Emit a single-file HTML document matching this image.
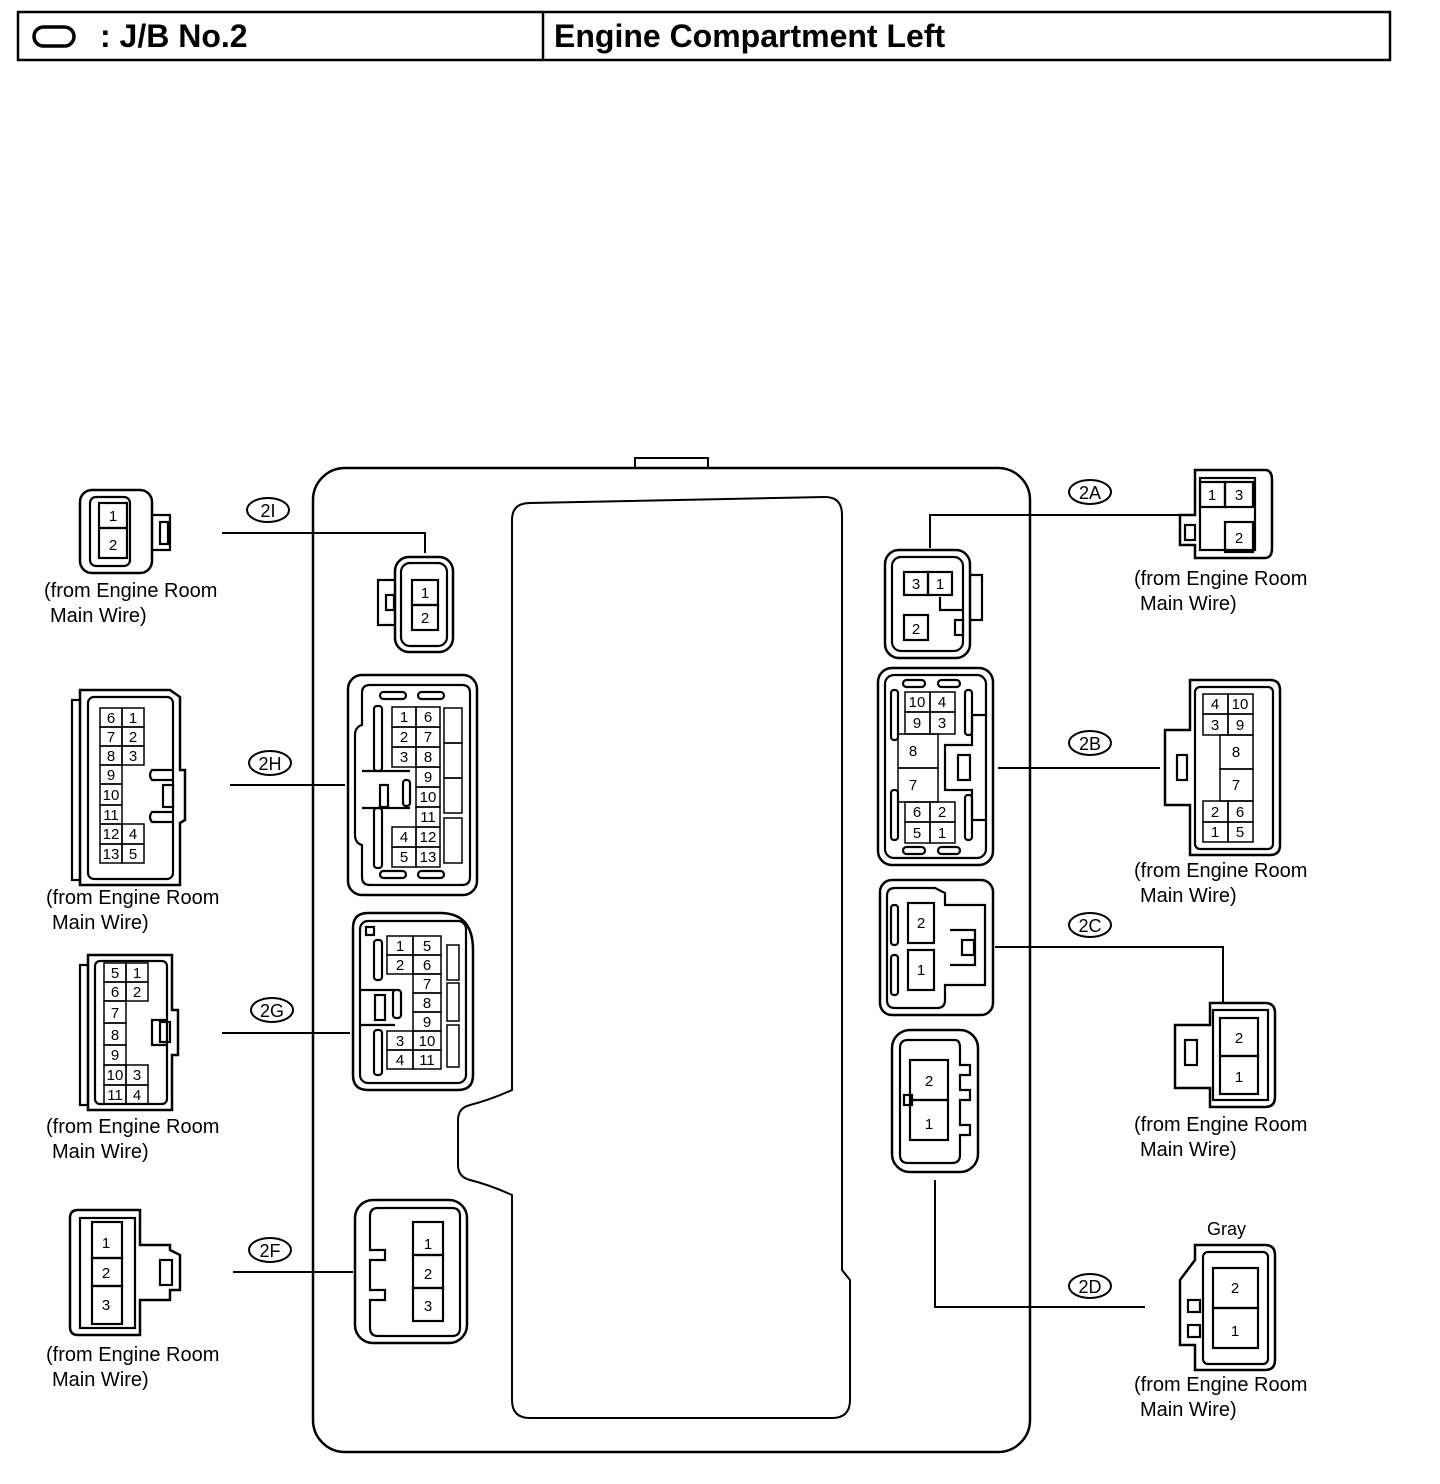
<!DOCTYPE html>
<html><head><meta charset="utf-8"><style>
html,body{margin:0;padding:0;background:#fff}
svg{display:block}
text{font-family:"Liberation Sans",sans-serif;fill:#000}
.n{font-size:15px;text-anchor:middle}
.t{font-size:20px}
.l{font-size:18px;text-anchor:middle}
</style></head><body>
<svg width="1440" height="1484" viewBox="0 0 1440 1484" xmlns="http://www.w3.org/2000/svg" fill="none" stroke="#000" stroke-width="2.2">
<!-- header -->
<rect x="18" y="12" width="1372" height="48" stroke-width="2.5"/>
<line x1="543" y1="12" x2="543" y2="60" stroke-width="2.5"/>
<rect x="34" y="27" width="40" height="19" rx="9.5" stroke-width="3.5"/>
<text x="100" y="47" style="font-size:32px;font-weight:bold" stroke="none">: J/B No.2</text>
<text x="554" y="47" style="font-size:32px;font-weight:bold" stroke="none">Engine Compartment Left</text>

<!-- main box -->
<rect x="313" y="468" width="717" height="984" rx="32" stroke-width="2.5"/>
<path d="M635 468 V458 H708 V468" stroke-width="2"/>
<path d="M530 503 L825 497 Q842 497 842 515 V1270 L850 1280 V1400 Q850 1418 832 1418 H530 Q512 1418 512 1400 V1195 Q490 1185 470 1180 Q458 1177 458 1165 V1120 Q458 1108 470 1105 Q490 1100 512 1090 V520 Q512 503 530 503Z" stroke-width="2"/>

<!-- callouts -->
<g stroke-width="2">
<ellipse cx="268" cy="510" rx="21" ry="12"/><text class="l" x="268" y="517" stroke="none">2I</text>
<path d="M222 533 H425 V553"/>
<ellipse cx="270" cy="763" rx="21" ry="12"/><text class="l" x="270" y="770" stroke="none">2H</text>
<path d="M230 785 H345"/>
<ellipse cx="272" cy="1010" rx="21" ry="12"/><text class="l" x="272" y="1017" stroke="none">2G</text>
<path d="M222 1033 H350"/>
<ellipse cx="270" cy="1250" rx="21" ry="12"/><text class="l" x="270" y="1257" stroke="none">2F</text>
<path d="M233 1272 H353"/>
<ellipse cx="1090" cy="492" rx="21" ry="12"/><text class="l" x="1090" y="499" stroke="none">2A</text>
<path d="M930 548 V515 H1180"/>
<ellipse cx="1090" cy="743" rx="21" ry="12"/><text class="l" x="1090" y="750" stroke="none">2B</text>
<path d="M998 768 H1160"/>
<ellipse cx="1090" cy="925" rx="21" ry="12"/><text class="l" x="1090" y="932" stroke="none">2C</text>
<path d="M995 947 H1223 V1003"/>
<ellipse cx="1090" cy="1286" rx="21" ry="12"/><text class="l" x="1090" y="1293" stroke="none">2D</text>
<path d="M935 1180 V1307 H1145"/>
</g>

<!-- from labels -->
<g stroke="none">
<text class="t" x="44" y="597">(from Engine Room</text><text class="t" x="50" y="622">Main Wire)</text>
<text class="t" x="46" y="904">(from Engine Room</text><text class="t" x="52" y="929">Main Wire)</text>
<text class="t" x="46" y="1133">(from Engine Room</text><text class="t" x="52" y="1158">Main Wire)</text>
<text class="t" x="46" y="1361">(from Engine Room</text><text class="t" x="52" y="1386">Main Wire)</text>
<text class="t" x="1134" y="585">(from Engine Room</text><text class="t" x="1140" y="610">Main Wire)</text>
<text class="t" x="1134" y="877">(from Engine Room</text><text class="t" x="1140" y="902">Main Wire)</text>
<text class="t" x="1134" y="1131">(from Engine Room</text><text class="t" x="1140" y="1156">Main Wire)</text>
<text class="t" x="1134" y="1391">(from Engine Room</text><text class="t" x="1140" y="1416">Main Wire)</text>
<text x="1207" y="1235" style="font-size:18px">Gray</text>
</g>

<!-- center 2I -->
<rect x="395" y="557" width="58" height="95" rx="14" stroke-width="2.5"/>
<rect x="401" y="563" width="46" height="83" rx="9"/>
<path d="M395 580 H378 V625 H395"/><rect x="386" y="595" width="8" height="15"/>
<rect x="412" y="580" width="26" height="25"/><rect x="412" y="605" width="26" height="25"/>
<g stroke="none"><text class="n" x="425" y="598">1</text><text class="n" x="425" y="623">2</text></g>

<!-- center 2H -->
<rect x="348" y="675" width="129" height="220" rx="14" stroke-width="2.5"/>
<path d="M370 685 H462 Q470 685 470 693 V877 Q470 885 462 885 H370 Q362 885 362 877 V845 Q355 843 355 835 V735 Q355 727 362 725 V693 Q362 685 370 685Z"/>
<rect x="380" y="692" width="26" height="7" rx="3.5"/><rect x="418" y="692" width="26" height="7" rx="3.5"/>
<rect x="380" y="871" width="26" height="7" rx="3.5"/><rect x="418" y="871" width="26" height="7" rx="3.5"/>
<rect x="374" y="706" width="8" height="65" rx="3"/><rect x="374" y="808" width="8" height="60" rx="3"/>
<path d="M362 771 H410 M362 808 H410"/><rect x="380" y="785" width="8" height="22"/><rect x="403" y="780" width="7" height="26" rx="3"/>
<g stroke-width="1.5">
<rect x="392" y="707" width="24" height="20"/><rect x="416" y="707" width="24" height="20"/>
<rect x="392" y="727" width="24" height="20"/><rect x="416" y="727" width="24" height="20"/>
<rect x="392" y="747" width="24" height="20"/><rect x="416" y="747" width="24" height="20"/>
<rect x="416" y="767" width="24" height="20"/><rect x="416" y="787" width="24" height="20"/><rect x="416" y="807" width="24" height="20"/>
<rect x="392" y="827" width="24" height="20"/><rect x="416" y="827" width="24" height="20"/>
<rect x="392" y="847" width="24" height="20"/><rect x="416" y="847" width="24" height="20"/>
<rect x="444" y="708" width="18" height="35"/><rect x="444" y="743" width="18" height="35"/><rect x="444" y="778" width="18" height="35"/><rect x="444" y="818" width="18" height="45"/>
</g>
<g stroke="none">
<text class="n" x="404" y="722">1</text><text class="n" x="428" y="722">6</text>
<text class="n" x="404" y="742">2</text><text class="n" x="428" y="742">7</text>
<text class="n" x="404" y="762">3</text><text class="n" x="428" y="762">8</text>
<text class="n" x="428" y="782">9</text><text class="n" x="428" y="802">10</text><text class="n" x="428" y="822">11</text>
<text class="n" x="404" y="842">4</text><text class="n" x="428" y="842">12</text>
<text class="n" x="404" y="862">5</text><text class="n" x="428" y="862">13</text>
</g>

<!-- center 2G -->
<path d="M368 913 H440 Q473 913 473 950 V1075 Q473 1090 458 1090 H368 Q353 1090 353 1075 V928 Q353 913 368 913Z" stroke-width="2.5"/>
<rect x="360" y="921" width="106" height="162" rx="8"/>
<rect x="366" y="927" width="8" height="8"/>
<rect x="374" y="940" width="8" height="40" rx="3"/><rect x="374" y="1030" width="8" height="45" rx="3"/>
<path d="M360 990 H395 M360 1025 H395"/><rect x="375" y="995" width="10" height="25"/><rect x="393" y="990" width="8" height="28" rx="3"/>
<g stroke-width="1.5">
<rect x="387" y="936" width="26" height="19"/><rect x="413" y="936" width="28" height="19"/>
<rect x="387" y="955" width="26" height="19"/><rect x="413" y="955" width="28" height="19"/>
<rect x="413" y="974" width="28" height="19"/><rect x="413" y="993" width="28" height="19"/><rect x="413" y="1012" width="28" height="19"/>
<rect x="387" y="1031" width="26" height="19"/><rect x="413" y="1031" width="28" height="19"/>
<rect x="387" y="1050" width="26" height="19"/><rect x="413" y="1050" width="28" height="19"/>
<rect x="447" y="945" width="12" height="35"/><rect x="447" y="983" width="12" height="38"/><rect x="447" y="1025" width="12" height="42"/>
</g>
<g stroke="none">
<text class="n" x="400" y="951">1</text><text class="n" x="427" y="951">5</text>
<text class="n" x="400" y="970">2</text><text class="n" x="427" y="970">6</text>
<text class="n" x="427" y="989">7</text><text class="n" x="427" y="1008">8</text><text class="n" x="427" y="1027">9</text>
<text class="n" x="400" y="1046">3</text><text class="n" x="427" y="1046">10</text>
<text class="n" x="400" y="1065">4</text><text class="n" x="427" y="1065">11</text>
</g>

<!-- center 2F -->
<rect x="355" y="1200" width="112" height="143" rx="18" stroke-width="2.5"/>
<path d="M378 1208 H452 Q460 1208 460 1216 V1328 Q460 1336 452 1336 H378 Q370 1336 370 1328 V1300 H385 V1290 H370 V1260 H385 V1250 H370 V1216 Q370 1208 378 1208Z"/>
<rect x="413" y="1222" width="30" height="33"/><rect x="413" y="1255" width="30" height="33"/><rect x="413" y="1288" width="30" height="33"/>
<g stroke="none"><text class="n" x="428" y="1249">1</text><text class="n" x="428" y="1279">2</text><text class="n" x="428" y="1311">3</text></g>

<!-- right center 2A -->
<rect x="885" y="550" width="85" height="108" rx="14" stroke-width="2.5"/>
<rect x="892" y="557" width="71" height="94" rx="9"/>
<path d="M970 575 H982 V620 H970"/>
<path d="M940 597 V610 H963"/><rect x="955" y="620" width="8" height="15"/>
<rect x="904" y="572" width="24" height="23"/><rect x="928" y="572" width="24" height="23"/><rect x="904" y="615" width="24" height="25"/>
<g stroke="none"><text class="n" x="916" y="589">3</text><text class="n" x="940" y="589">1</text><text class="n" x="916" y="634">2</text></g>

<!-- 2B center -->
<rect x="878" y="668" width="115" height="197" rx="14" stroke-width="2.5"/>
<rect x="885" y="675" width="101" height="183" rx="9"/>
<rect x="903" y="680" width="22" height="7" rx="3.5"/><rect x="938" y="680" width="22" height="7" rx="3.5"/>
<rect x="903" y="847" width="22" height="7" rx="3.5"/><rect x="938" y="847" width="22" height="7" rx="3.5"/>
<rect x="891" y="690" width="7" height="50" rx="3"/><rect x="891" y="790" width="7" height="50" rx="3"/>
<rect x="965" y="690" width="7" height="45" rx="3"/><rect x="965" y="795" width="7" height="45" rx="3"/>
<path d="M986 715 H972 V745 H945 V790 H972 V820 H986"/><rect x="958" y="755" width="12" height="25"/>
<g stroke-width="1.5">
<rect x="905" y="692" width="25" height="20"/><rect x="930" y="692" width="25" height="20"/>
<rect x="905" y="712" width="25" height="22"/><rect x="930" y="712" width="25" height="22"/>
<rect x="898" y="734" width="40" height="34"/><rect x="898" y="768" width="40" height="34"/>
<rect x="905" y="802" width="25" height="20"/><rect x="930" y="802" width="25" height="20"/>
<rect x="905" y="822" width="25" height="21"/><rect x="930" y="822" width="25" height="21"/>
</g>
<g stroke="none">
<text class="n" x="917" y="707">10</text><text class="n" x="942" y="707">4</text>
<text class="n" x="917" y="728">9</text><text class="n" x="942" y="728">3</text>
<text class="n" x="913" y="756">8</text><text class="n" x="913" y="790">7</text>
<text class="n" x="917" y="817">6</text><text class="n" x="942" y="817">2</text>
<text class="n" x="917" y="838">5</text><text class="n" x="942" y="838">1</text>
</g>

<!-- 2C center -->
<rect x="880" y="880" width="113" height="135" rx="12" stroke-width="2.5"/>
<path d="M895 888 H935 L945 893 V905 H985 V985 H945 V1000 Q945 1008 937 1008 H895 Q887 1008 887 1000 V896 Q887 888 895 888Z"/>
<rect x="891" y="905" width="7" height="40" rx="3"/><rect x="891" y="955" width="7" height="40" rx="3"/>
<path d="M950 930 H975 V965 H950"/><rect x="962" y="940" width="12" height="15"/>
<rect x="908" y="903" width="26" height="40"/><rect x="908" y="950" width="26" height="40"/>
<g stroke="none"><text class="n" x="921" y="928">2</text><text class="n" x="921" y="975">1</text></g>

<!-- 2D center -->
<rect x="892" y="1030" width="86" height="142" rx="18" stroke-width="2.5"/>
<path d="M908 1040 H955 Q960 1040 960 1048 V1065 H970 V1075 H960 V1090 H970 V1100 H960 V1125 H970 V1135 H960 V1155 Q960 1163 952 1163 H908 Q900 1163 900 1155 V1048 Q900 1040 908 1040Z"/>
<rect x="910" y="1060" width="38" height="40"/><rect x="910" y="1100" width="38" height="40"/><rect x="904" y="1095" width="8" height="10"/>
<g stroke="none"><text class="n" x="929" y="1086">2</text><text class="n" x="929" y="1129">1</text></g>

<!-- left external 2I -->
<rect x="80" y="490" width="72" height="83" rx="12" stroke-width="2.5"/>
<rect x="90" y="497" width="40" height="69" rx="6"/>
<path d="M152 515 H170 V550 H152"/><rect x="160" y="522" width="8" height="22"/>
<rect x="99" y="503" width="28" height="25"/><rect x="99" y="528" width="28" height="30"/>
<g stroke="none"><text class="n" x="113" y="521">1</text><text class="n" x="113" y="550">2</text></g>

<!-- left external 2H -->
<path d="M80 690 H170 L180 697 V770 H185 V820 L180 823 V885 H80 Z" stroke-width="2.5"/>
<rect x="88" y="697" width="85" height="182" rx="6"/>
<rect x="72" y="700" width="8" height="180"/>
<path d="M173 770 H152 Q148 775 152 780 H173 M173 812 H152 Q148 817 152 822 H173"/><rect x="163" y="785" width="10" height="22"/>
<g stroke-width="1.5">
<rect x="100" y="708" width="22" height="19"/><rect x="122" y="708" width="22" height="19"/>
<rect x="100" y="727" width="22" height="19"/><rect x="122" y="727" width="22" height="19"/>
<rect x="100" y="746" width="22" height="19"/><rect x="122" y="746" width="22" height="19"/>
<rect x="100" y="765" width="22" height="19"/><rect x="100" y="784" width="22" height="21"/><rect x="100" y="805" width="22" height="19"/>
<rect x="100" y="824" width="22" height="20"/><rect x="122" y="824" width="22" height="20"/>
<rect x="100" y="844" width="22" height="19"/><rect x="122" y="844" width="22" height="19"/>
</g>
<g stroke="none">
<text class="n" x="111" y="723">6</text><text class="n" x="133" y="723">1</text>
<text class="n" x="111" y="742">7</text><text class="n" x="133" y="742">2</text>
<text class="n" x="111" y="761">8</text><text class="n" x="133" y="761">3</text>
<text class="n" x="111" y="780">9</text><text class="n" x="111" y="800">10</text><text class="n" x="111" y="820">11</text>
<text class="n" x="111" y="839">12</text><text class="n" x="133" y="839">4</text>
<text class="n" x="111" y="859">13</text><text class="n" x="133" y="859">5</text>
</g>

<!-- left external 2G -->
<path d="M88 955 H172 V1010 H178 V1055 H172 V1110 H88 Z" stroke-width="2.5"/>
<rect x="95" y="961" width="72" height="143" rx="5"/>
<rect x="80" y="965" width="8" height="140"/>
<path d="M167 1020 H152 V1045 H167"/><rect x="160" y="1022" width="10" height="20"/>
<g stroke-width="1.5">
<rect x="104" y="963" width="22" height="19"/><rect x="126" y="963" width="22" height="19"/>
<rect x="104" y="982" width="22" height="19"/><rect x="126" y="982" width="22" height="19"/>
<rect x="104" y="1001" width="22" height="22"/><rect x="104" y="1023" width="22" height="22"/><rect x="104" y="1045" width="22" height="20"/>
<rect x="104" y="1065" width="22" height="20"/><rect x="126" y="1065" width="22" height="20"/>
<rect x="104" y="1085" width="22" height="19"/><rect x="126" y="1085" width="22" height="19"/>
</g>
<g stroke="none">
<text class="n" x="115" y="978">5</text><text class="n" x="137" y="978">1</text>
<text class="n" x="115" y="997">6</text><text class="n" x="137" y="997">2</text>
<text class="n" x="115" y="1018">7</text><text class="n" x="115" y="1040">8</text><text class="n" x="115" y="1060">9</text>
<text class="n" x="115" y="1080">10</text><text class="n" x="137" y="1080">3</text>
<text class="n" x="115" y="1100">11</text><text class="n" x="137" y="1100">4</text>
</g>

<!-- left external 2F -->
<path d="M78 1210 H140 V1245 H170 V1250 L180 1255 V1290 H170 V1300 H140 V1335 H78 Q70 1335 70 1327 V1218 Q70 1210 78 1210Z" stroke-width="2.5"/>
<rect x="80" y="1218" width="55" height="110"/>
<rect x="92" y="1222" width="30" height="36"/><rect x="92" y="1258" width="30" height="28"/><rect x="92" y="1286" width="30" height="38"/>
<rect x="160" y="1260" width="12" height="25"/>
<g stroke="none"><text class="n" x="106" y="1248">1</text><text class="n" x="106" y="1278">2</text><text class="n" x="106" y="1310">3</text></g>

<!-- right external 2A -->
<path d="M1195 470 H1265 Q1272 470 1272 480 V548 Q1272 558 1265 558 H1195 V545 H1180 V515 H1195 Z" stroke-width="2.5"/>
<rect x="1200" y="478" width="55" height="72"/>
<rect x="1185" y="525" width="10" height="15"/>
<rect x="1200" y="482" width="25" height="25"/><rect x="1225" y="482" width="28" height="25"/><rect x="1225" y="522" width="28" height="30"/>
<g stroke="none"><text class="n" x="1212" y="500">1</text><text class="n" x="1239" y="500">3</text><text class="n" x="1239" y="543">2</text></g>

<!-- right external 2B -->
<path d="M1190 680 H1270 Q1280 680 1280 690 V845 Q1280 855 1270 855 H1190 V805 H1165 V730 H1190 Z" stroke-width="2.5"/>
<rect x="1195" y="687" width="78" height="162" rx="5"/>
<rect x="1177" y="755" width="10" height="25"/>
<g stroke-width="1.5">
<rect x="1203" y="694" width="25" height="20"/><rect x="1228" y="694" width="25" height="20"/>
<rect x="1203" y="714" width="25" height="21"/><rect x="1228" y="714" width="25" height="21"/>
<rect x="1220" y="735" width="33" height="34"/><rect x="1220" y="769" width="33" height="32"/>
<rect x="1203" y="801" width="25" height="21"/><rect x="1228" y="801" width="25" height="21"/>
<rect x="1203" y="822" width="25" height="20"/><rect x="1228" y="822" width="25" height="20"/>
</g>
<g stroke="none">
<text class="n" x="1215" y="709">4</text><text class="n" x="1240" y="709">10</text>
<text class="n" x="1215" y="730">3</text><text class="n" x="1240" y="730">9</text>
<text class="n" x="1236" y="757">8</text><text class="n" x="1236" y="790">7</text>
<text class="n" x="1215" y="817">2</text><text class="n" x="1240" y="817">6</text>
<text class="n" x="1215" y="837">1</text><text class="n" x="1240" y="837">5</text>
</g>

<!-- right external 2C -->
<path d="M1210 1003 H1265 Q1275 1003 1275 1013 V1097 Q1275 1107 1265 1107 H1210 V1088 H1175 V1025 H1210 Z" stroke-width="2.5"/>
<rect x="1213" y="1010" width="55" height="90"/>
<rect x="1185" y="1040" width="12" height="25"/>
<rect x="1220" y="1018" width="38" height="38"/><rect x="1220" y="1056" width="38" height="38"/>
<g stroke="none"><text class="n" x="1239" y="1043">2</text><text class="n" x="1239" y="1082">1</text></g>

<!-- right external 2D -->
<path d="M1195 1245 H1265 Q1275 1245 1275 1255 V1360 Q1275 1370 1265 1370 H1195 V1345 H1180 V1280 L1195 1260 Z" stroke-width="2.5"/>
<rect x="1203" y="1252" width="65" height="112" rx="5"/>
<rect x="1188" y="1300" width="12" height="12"/><rect x="1188" y="1325" width="12" height="12"/>
<rect x="1213" y="1268" width="45" height="40"/><rect x="1213" y="1308" width="45" height="40"/>
<g stroke="none"><text class="n" x="1235" y="1293">2</text><text class="n" x="1235" y="1336">1</text></g>
</svg>
</body></html>
